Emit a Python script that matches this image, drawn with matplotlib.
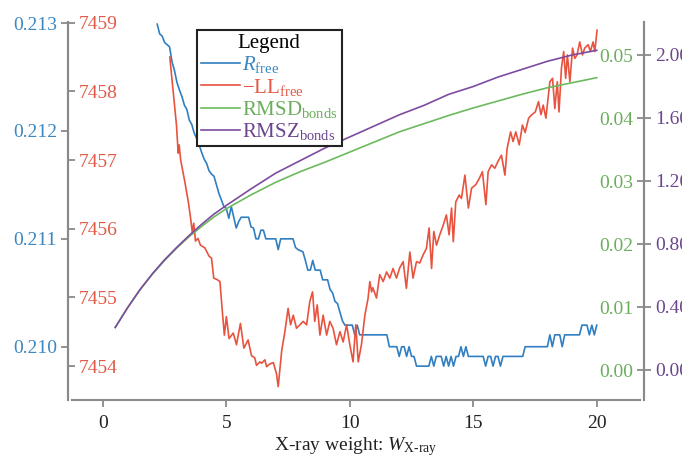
import matplotlib
matplotlib.use("Agg")
import matplotlib.pyplot as plt

plt.rcParams['font.family'] = ['Liberation Serif', 'DejaVu Serif']
plt.rcParams['mathtext.fontset'] = 'custom'
plt.rcParams['mathtext.rm'] = 'Liberation Serif'
plt.rcParams['mathtext.it'] = 'Liberation Serif:italic'
plt.rcParams['mathtext.bf'] = 'Liberation Serif:bold'

# R_free (left outer axis)
rfree_x = [2.2, 2.3, 2.4, 2.5, 2.6, 2.7, 2.8, 2.9, 3.0, 3.1, 3.2, 3.3, 3.4, 3.5, 3.6, 3.7, 3.8, 3.9,
           4.0, 4.1, 4.2, 4.3, 4.4, 4.5, 4.6, 4.7, 4.8, 4.9, 5.0, 5.1, 5.2, 5.3, 5.4, 5.5, 5.6, 5.9,
           6.0, 6.1, 6.2, 6.3, 6.4, 6.5, 6.6, 7.0, 7.1, 7.2, 7.7, 7.8, 7.9, 8.1, 8.2, 8.3, 8.4, 8.5,
           8.6, 8.8, 8.9, 9.1, 9.2, 9.3, 9.4, 9.5, 9.6, 9.7, 9.8, 10.1, 10.2, 10.3, 10.4, 11.5, 11.6,
           11.9, 12.0, 12.1, 12.2, 12.3, 12.4, 12.5, 12.6, 12.7, 13.2, 13.3, 13.4, 13.5, 13.7, 13.8,
           13.9, 14.0, 14.1, 14.2, 14.3, 14.4, 14.5, 14.6, 14.7, 14.8, 15.4, 15.5, 15.6, 15.7, 15.8,
           15.9, 16.0, 16.1, 16.2, 17.0, 17.1, 18.0, 18.1, 18.2, 18.3, 18.5, 18.6, 18.7, 19.3, 19.4,
           19.6, 19.7, 19.8, 19.9, 20.0]
rfree = [0.21299, 0.21290, 0.21288, 0.21282, 0.21280, 0.21278, 0.21264, 0.21256, 0.21245, 0.21238,
         0.21232, 0.21224, 0.21220, 0.21210, 0.21206, 0.21198, 0.21193, 0.21187, 0.21180, 0.21174,
         0.21170, 0.21163, 0.21160, 0.21158, 0.21150, 0.21142, 0.21136, 0.21130, 0.21128, 0.21119,
         0.21130, 0.21120, 0.21110, 0.21116, 0.21120, 0.21120, 0.21111, 0.21110, 0.21100, 0.21100,
         0.21108, 0.21108, 0.21100, 0.21100, 0.21090, 0.21100, 0.21100, 0.21092, 0.21090, 0.21088,
         0.21080, 0.21071, 0.21071, 0.21080, 0.21071, 0.21071, 0.21062, 0.21062, 0.21053, 0.21050,
         0.21042, 0.21040, 0.21032, 0.21024, 0.21020, 0.21020, 0.21011, 0.21020, 0.21011, 0.21011,
         0.21000, 0.21000, 0.20991, 0.21000, 0.21000, 0.20991, 0.21000, 0.20991, 0.20991, 0.20982,
         0.20982, 0.20991, 0.20982, 0.20991, 0.20991, 0.20982, 0.20991, 0.20982, 0.20991, 0.20982,
         0.20991, 0.20991, 0.21000, 0.20991, 0.21000, 0.20991, 0.20991, 0.20982, 0.20991, 0.20991,
         0.20982, 0.20991, 0.20991, 0.20982, 0.20991, 0.20991, 0.21000, 0.21000, 0.21011, 0.21000,
         0.21011, 0.21011, 0.21000, 0.21011, 0.21011, 0.21020, 0.21020, 0.21011, 0.21020, 0.21011,
         0.21020]

# -LL_free (left inner axis)
ll_x = [2.71, 2.85, 2.98, 3.05, 3.09, 3.15, 3.32, 3.46, 3.55, 3.62, 3.68, 3.75, 3.85, 3.95, 4.13,
        4.30, 4.40, 4.49, 4.62, 4.74, 4.85, 4.92, 5.00, 5.11, 5.28, 5.41, 5.57, 5.71, 5.88, 6.02,
        6.15, 6.22, 6.36, 6.43, 6.56, 6.63, 6.76, 6.90, 7.03, 7.10, 7.24, 7.37, 7.50, 7.60, 7.71,
        7.84, 7.98, 8.11, 8.25, 8.38, 8.49, 8.58, 8.68, 8.79, 8.92, 9.06, 9.19, 9.32, 9.46, 9.60,
        9.73, 9.87, 10.00, 10.13, 10.24, 10.34, 10.47, 10.61, 10.74, 10.81, 10.88, 10.93, 11.08,
        11.21, 11.35, 11.49, 11.62, 11.75, 11.89, 12.02, 12.16, 12.29, 12.43, 12.56, 12.70, 12.83,
        12.97, 13.10, 13.21, 13.31, 13.40, 13.51, 13.64, 13.78, 13.91, 14.02, 14.12, 14.19, 14.29,
        14.43, 14.52, 14.66, 14.80, 14.93, 15.10, 15.24, 15.37, 15.51, 15.60, 15.74, 15.87, 16.00,
        16.14, 16.28, 16.37, 16.51, 16.61, 16.72, 16.86, 16.99, 17.10, 17.24, 17.37, 17.51, 17.64,
        17.74, 17.83, 17.94, 18.10, 18.21, 18.30, 18.40, 18.47, 18.57, 18.66, 18.74, 18.81, 18.91,
        19.02, 19.11, 19.20, 19.31, 19.42, 19.51, 19.65, 19.74, 19.85, 19.92, 20.01]
ll = [7458.50, 7457.99, 7457.51, 7457.10, 7457.22, 7457.00, 7456.68, 7456.39, 7456.16, 7455.95,
      7456.08, 7455.82, 7455.86, 7455.76, 7455.72, 7455.60, 7455.57, 7455.28, 7455.26, 7455.23,
      7454.74, 7454.45, 7454.72, 7454.40, 7454.48, 7454.31, 7454.62, 7454.26, 7454.38, 7454.15,
      7454.12, 7454.01, 7454.06, 7454.04, 7454.09, 7453.99, 7454.03, 7454.05, 7453.89, 7453.70,
      7454.22, 7454.50, 7454.84, 7454.60, 7454.74, 7454.55, 7454.60, 7454.65, 7454.60, 7454.94,
      7455.08, 7454.65, 7454.89, 7454.45, 7454.74, 7454.45, 7454.65, 7454.55, 7454.31, 7454.50,
      7454.35, 7454.60, 7454.31, 7454.06, 7454.60, 7454.06, 7454.31, 7454.74, 7454.99, 7455.23,
      7455.08, 7455.14, 7454.99, 7455.33, 7455.23, 7455.37, 7455.28, 7455.42, 7455.28, 7455.43,
      7455.52, 7455.13, 7455.66, 7455.28, 7455.52, 7455.50, 7455.62, 7455.71, 7456.01, 7455.42,
      7455.96, 7455.76, 7455.91, 7456.05, 7456.20, 7455.91, 7456.30, 7455.81, 7456.39, 7456.49,
      7456.44, 7456.78, 7456.30, 7456.59, 7456.64, 7456.73, 7456.83, 7456.35, 7456.83, 7456.93,
      7456.88, 7456.98, 7457.07, 7456.78, 7457.17, 7457.41, 7457.27, 7457.41, 7457.22, 7457.51,
      7457.40, 7457.61, 7457.66, 7457.70, 7457.85, 7457.66, 7457.80, 7457.61, 7458.14, 7458.19,
      7457.75, 7458.14, 7457.70, 7458.34, 7458.58, 7458.19, 7458.53, 7458.14, 7458.63, 7458.48,
      7458.53, 7458.72, 7458.53, 7458.63, 7458.68, 7458.58, 7458.72, 7458.58, 7458.89]

# bond geometry (right axes)
bond_x = [0.5, 1, 1.5, 2, 2.5, 3, 3.5, 4, 4.5, 5, 6, 7, 8, 9, 10, 11, 12, 13, 14, 15, 16, 17,
          18, 19, 20]
rmsd = [0.00675, 0.0099, 0.0127, 0.0152, 0.0174, 0.0194, 0.0212, 0.0228, 0.0243, 0.0256, 0.0278,
        0.0298, 0.0315, 0.0330, 0.0346, 0.0362, 0.0378, 0.0391, 0.0404, 0.0416, 0.0427, 0.0438,
        0.0448, 0.0456, 0.0464]
rmsz = [0.27, 0.395, 0.51, 0.61, 0.70, 0.78, 0.855, 0.925, 0.99, 1.045, 1.15, 1.25, 1.33, 1.41,
        1.48, 1.55, 1.62, 1.68, 1.75, 1.80, 1.86, 1.91, 1.96, 2.00, 2.03]

c_blue, c_red, c_green, c_purple = '#2f7fc1', '#e8533f', '#6cba5e', '#7d4ba0'
t_blue, t_red, t_green, t_purple = '#3a87c2', '#e25a47', '#6aae5c', '#6b468f'
spine_c = '#8a8a8a'
off = 4 / 568  # small gap between spines, in axes fraction

fig = plt.figure(figsize=(6.82, 4.57), dpi=100)
ax = fig.add_axes([72 / 682, 57 / 457, 568 / 682, 378 / 457])
ax_ll = ax.twinx()
ax_d = ax.twinx()
ax_z = ax.twinx()

l1, = ax.plot(rfree_x, rfree, color=c_blue, lw=1.2)
l2, = ax_ll.plot(ll_x, ll, color=c_red, lw=1.2)
l3, = ax_d.plot(bond_x, rmsd, color=c_green, lw=1.2)
l4, = ax_z.plot(bond_x, rmsz, color=c_purple, lw=1.2)

ax.set_xlim(-1.25, 21.75)
ax.set_xticks([0, 5, 10, 15, 20])
ax.set_ylim(0.209506, 0.21301)
ax.set_yticks([0.210, 0.211, 0.212, 0.213])
ax.set_yticklabels(['0.210', '0.211', '0.212', '0.213'])
ax_ll.set_ylim(7453.505, 7459.01)
ax_ll.set_yticks([7454, 7455, 7456, 7457, 7458, 7459])
ax_d.set_ylim(-0.00476, 0.05524)
ax_d.set_yticks([0.00, 0.01, 0.02, 0.03, 0.04, 0.05])
ax_d.set_yticklabels(['%.2f' % v for v in [0.00, 0.01, 0.02, 0.03, 0.04, 0.05]])
ax_z.set_ylim(-0.1905, 2.2095)
ax_z.set_yticks([0.0, 0.4, 0.8, 1.2, 1.6, 2.0])
ax_z.set_yticklabels(['%.2f' % v for v in [0.0, 0.4, 0.8, 1.2, 1.6, 2.0]])

for a in [ax, ax_ll, ax_d, ax_z]:
    for s in a.spines.values():
        s.set_visible(False)
        s.set_color(spine_c)
        s.set_linewidth(1.5)

ax.spines['left'].set_visible(True)
ax.spines['left'].set_position(('axes', -off))
ax.spines['bottom'].set_visible(True)
ax_ll.spines['right'].set_visible(True)
ax_ll.spines['right'].set_position(('axes', -off))
ax_d.yaxis.tick_left()
ax_d.spines['left'].set_visible(True)
ax_d.spines['left'].set_position(('axes', 1 + off))
ax_z.spines['right'].set_visible(True)
ax_z.spines['right'].set_position(('axes', 1 + off))

ax.tick_params(axis='x', colors=spine_c, labelcolor='#222222', labelsize=14, length=5, width=1.3, pad=6)
ax.tick_params(axis='y', colors=spine_c, labelcolor=t_blue, labelsize=14, length=5, width=1.3, pad=3)
ax_ll.tick_params(axis='y', colors=spine_c, labelcolor=t_red, labelsize=14, length=5, width=1.3, pad=3)
ax_d.tick_params(axis='y', colors=spine_c, labelcolor=t_green, labelsize=14, length=5, width=1.3, pad=3)
ax_z.tick_params(axis='y', colors=spine_c, labelcolor=t_purple, labelsize=14, length=5, width=1.3, pad=3)

ax.set_xlabel(r'X-ray weight: $W_{\mathrm{X\text{-}ray}}$', fontsize=14, color='#222222', labelpad=2)

leg = ax_z.legend([l1, l2, l3, l4],
                  [r'$R_{\mathrm{free}}$', r'$-\mathrm{LL}_{\mathrm{free}}$',
                   r'$\mathrm{RMSD}_{\mathrm{bonds}}$', r'$\mathrm{RMSZ}_{\mathrm{bonds}}$'],
                  title='Legend', loc='upper left', bbox_to_anchor=(0.220, 0.979),
                  fontsize=15, title_fontsize=15, fancybox=False, framealpha=1,
                  edgecolor='#222222', handlelength=1.85, handletextpad=0.1,
                  labelspacing=0.06, borderpad=0.2, borderaxespad=0)
leg.get_frame().set_linewidth(1.5)
for txt, col in zip(leg.get_texts(), [t_blue, t_red, t_green, t_purple]):
    txt.set_color(col)

fig.savefig('out.png', dpi=100)
